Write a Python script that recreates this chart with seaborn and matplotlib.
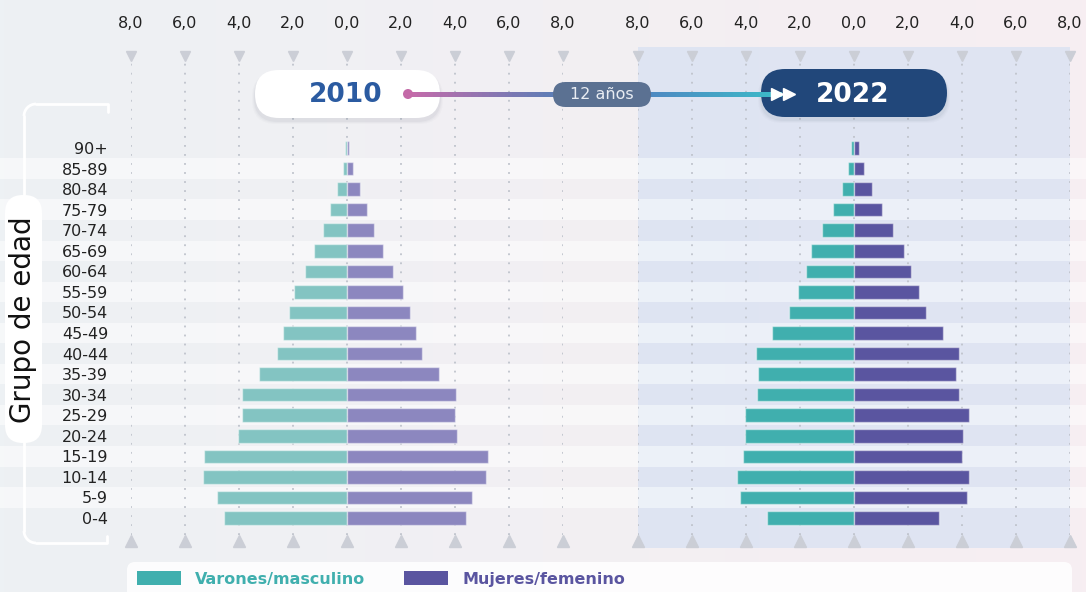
import numpy as np
import matplotlib
matplotlib.use("Agg")
import matplotlib.pyplot as plt
import seaborn as sns
from matplotlib.patches import FancyBboxPatch, Patch, Circle, Arc
from matplotlib.collections import LineCollection
from matplotlib.colors import to_rgb
import matplotlib.transforms as mtransforms

# ---------------- data ----------------
age_groups = ["90+", "85-89", "80-84", "75-79", "70-74", "65-69", "60-64", "55-59",
              "50-54", "45-49", "40-44", "35-39", "30-34", "25-29", "20-24", "15-19",
              "10-14", "5-9", "0-4"]
male_2010 = [0.06, 0.16, 0.36, 0.63, 0.90, 1.21, 1.57, 1.95, 2.14, 2.37, 2.60, 3.25,
             3.90, 3.88, 4.02, 5.30, 5.35, 4.80, 4.54]
female_2010 = [0.09, 0.22, 0.47, 0.74, 1.01, 1.32, 1.72, 2.09, 2.35, 2.54, 2.79, 3.41,
               4.02, 4.00, 4.06, 5.21, 5.16, 4.63, 4.41]
male_2022 = [0.10, 0.21, 0.46, 0.78, 1.17, 1.58, 1.78, 2.06, 2.41, 3.04, 3.63, 3.54,
             3.60, 4.02, 4.02, 4.11, 4.34, 4.24, 3.22]
female_2022 = [0.19, 0.37, 0.67, 1.03, 1.44, 1.86, 2.10, 2.40, 2.65, 3.29, 3.89, 3.78,
               3.89, 4.27, 4.05, 4.01, 4.25, 4.20, 3.14]
x_ticks = [-8, -6, -4, -2, 0, 2, 4, 6, 8]
x_tick_labels = ["8,0", "6,0", "4,0", "2,0", "0,0", "2,0", "4,0", "6,0", "8,0"]
year_left, year_right, gap_label = "2010", "2022", "12 años"
legend_labels = ["Varones/masculino", "Mujeres/femenino"]
y_title = "Grupo de edad"

# ---------------- style ----------------
sns.set_theme(style="white")
plt.rcParams["font.family"] = ["DejaVu Sans"]
W, H = 1086, 592
fig = plt.figure(figsize=(W / 100, H / 100), dpi=100)

c_m_old, c_f_old = "#83C4C2", "#8C87BF"
c_m_new, c_f_new = "#40AFAE", "#5A55A0"

# background gradient
bg = fig.add_axes([0, 0, 1, 1], zorder=0)
bg.set_axis_off()
c1, c2 = np.array(to_rgb("#EDF1F4")), np.array(to_rgb("#F7EEF2"))
t = np.linspace(0, 1, 256)
grad = (c1[None, :] * (1 - t[:, None]) + c2[None, :] * t[:, None])[None, :, :]
bg.imshow(grad, aspect="auto", extent=[0, 1, 0, 1])
bg.set_xlim(0, 1); bg.set_ylim(0, 1)

# panel geometry (pixels)
top_px, bot_px = 47, 548
row0_px, row_step = 148, (518 - 148) / 18
ax_bottom = (H - bot_px) / H
ax_height = (bot_px - top_px) / H
y_lo = (bot_px - row0_px) / row_step
y_hi = (top_px - row0_px) / row_step

rows = fig.add_axes([0, ax_bottom, 1, ax_height], zorder=0.5)
rows.set_axis_off()
rows.patch.set_alpha(0)
rows.set_xlim(0, 1)
rows.set_ylim(y_lo, y_hi)
for j in range(len(age_groups)):
    if j % 2 == 1:
        rows.axhspan(j - 0.5, j + 0.5, color="white", alpha=0.5, lw=0)

axL = fig.add_axes([131 / W, ax_bottom, 432 / W, ax_height], zorder=1)
axR = fig.add_axes([638 / W, ax_bottom, 432 / W, ax_height], zorder=1)
axL.patch.set_alpha(0)
axR.set_facecolor((0.82, 0.87, 0.95, 0.6))

for ax, male, female, cm, cf in [(axL, male_2010, female_2010, c_m_old, c_f_old),
                                  (axR, male_2022, female_2022, c_m_new, c_f_new)]:
    for tk in x_ticks:
        ax.axvline(tk, ymin=0.026, ymax=0.97, color="#BFC3CC", lw=1.3,
                   ls=(0, (1, 4)), zorder=0.8)
    sns.barplot(x=-np.array(male), y=age_groups, order=age_groups, orient="h",
                color=cm, saturation=1, width=0.66, ax=ax,
                edgecolor=(1, 1, 1, 0.45), linewidth=1, zorder=2)
    sns.barplot(x=np.array(female), y=age_groups, order=age_groups, orient="h",
                color=cf, saturation=1, width=0.66, ax=ax,
                edgecolor=(1, 1, 1, 0.45), linewidth=1, zorder=2)
    ax.set_xlim(-8, 8)
    ax.set_ylim(y_lo, y_hi)
    ax.set_xlabel(""); ax.set_ylabel("")
    ax.xaxis.set_ticks_position("top")
    ax.set_xticks(x_ticks)
    ax.set_xticklabels(x_tick_labels)
    ax.tick_params(axis="x", length=0, pad=11.3, labelsize=11.5, colors="#222222")
    for s in ax.spines.values():
        s.set_visible(False)
    tr = mtransforms.blended_transform_factory(ax.transData, ax.transAxes)
    ax.plot(x_ticks, [0.982] * len(x_ticks), ls="none", marker="v", ms=7,
            color="#CBCED6", transform=tr, clip_on=False, zorder=3)
    ax.plot(x_ticks, [0.013] * len(x_ticks), ls="none", marker="^", ms=8,
            color="#CBCED6", transform=tr, clip_on=False, zorder=3)

# right panel lighter bands
for j in range(len(age_groups)):
    if j % 2 == 1:
        axR.axhspan(j - 0.5, j + 0.5, color="white", alpha=0.4, lw=0, zorder=0.5)

axL.tick_params(axis="y", length=0, pad=16.5, labelsize=11.5, colors="#222222")
axR.set_yticks([])

# ---------------- foreground decorations ----------------
fg = fig.add_axes([0, 0, 1, 1], zorder=5)
fg.set_xlim(0, W); fg.set_ylim(H, 0)
fg.set_axis_off()
fg.patch.set_alpha(0)


def pill(x0, y0, w, h, color, r=None, z=6, shadow=True):
    r = h / 2 if r is None else r
    if shadow:
        for k, a in [(6, 0.025), (4, 0.035), (2, 0.05)]:
            fg.add_patch(FancyBboxPatch((x0 - k / 2, y0 + 3), w + k, h + k / 2,
                                        boxstyle=f"round,pad=0,rounding_size={r}",
                                        fc="#4A5570", ec="none", alpha=a, zorder=z - 0.5))
    fg.add_patch(FancyBboxPatch((x0, y0), w, h, boxstyle=f"round,pad=0,rounding_size={r}",
                                fc=color, ec="none", zorder=z))


def grad_line(x0, x1, y, ca, cb, z=6.2):
    xs = np.linspace(x0, x1, 40)
    segs = [[(xs[i], y), (xs[i + 1] + 0.6, y)] for i in range(len(xs) - 1)]
    a, b = np.array(to_rgb(ca)), np.array(to_rgb(cb))
    cols = [a * (1 - s) + b * s for s in np.linspace(0, 1, len(segs))]
    fg.add_collection(LineCollection(segs, colors=cols, linewidths=2.4, zorder=z,
                                     capstyle="projecting", antialiaseds=False))


# connecting lines
grad_line(408, 556, 94, "#C66BAA", "#5E7DB6")
grad_line(648, 778, 94, "#4E88C2", "#3CB9C8")

pill(255, 70, 185, 48, "white")
fg.text(346, 95, year_left, ha="center", va="center", fontsize=19, fontweight="bold",
        color="#2B5BA1", zorder=7)
fg.add_patch(Circle((408, 94), 5, fc="#C46AA8", ec="none", zorder=7))

pill(553, 82, 98, 25, "#5B7192", shadow=False, z=6.5)
fg.text(602, 94.5, gap_label, ha="center", va="center", fontsize=11.5,
        color="#E9EDF3", zorder=7)

pill(761, 69, 186, 48, "#21477A")
fg.plot([777, 789], [94, 94], ls="none", marker=">", ms=8, color="white", zorder=7.5)
fg.text(853, 95, year_right, ha="center", va="center", fontsize=19, fontweight="bold",
        color="white", zorder=7)

# y title with bracket
fg.plot([108, 108, 36], [112, 104, 104], color="white", lw=2, zorder=5.5,
        solid_capstyle="round")
fg.plot([24, 24], [116, 531], color="white", lw=2, zorder=5.5)
fg.add_patch(Arc((36, 116), 24, 24, theta1=180, theta2=270,
                 color="white", lw=2, zorder=5.5))
fg.add_patch(Arc((36, 531), 24, 24, theta1=90, theta2=180,
                 color="white", lw=2, zorder=5.5))
fg.plot([36, 107, 107], [543, 543, 536], color="white", lw=2, zorder=5.5,
        solid_capstyle="round")
pill(5, 195, 37, 248, "white", r=18, shadow=False)
fg.text(23, 320, y_title, rotation=90, ha="center", va="center", fontsize=20,
        color="#111111", zorder=7)

# legend
fg.add_patch(FancyBboxPatch((127, 562), 945, 40, boxstyle="round,pad=0,rounding_size=8",
                            fc="white", ec="none", alpha=0.85, zorder=5.5))
handles = [Patch(facecolor=c_m_new, edgecolor="none", label=legend_labels[0]),
           Patch(facecolor=c_f_new, edgecolor="none", label=legend_labels[1])]
leg = fig.legend(handles=handles, loc="center left",
                 bbox_to_anchor=(137 / W, 1 - 579 / H), ncol=2, frameon=False,
                 handlelength=2.75, handleheight=1.0,
                 handletextpad=0.9, columnspacing=2.4, borderpad=0, borderaxespad=0,
                 prop={"weight": "semibold", "size": 11.5})
leg.set_zorder(8)
for txt, c in zip(leg.get_texts(), [c_m_new, c_f_new]):
    txt.set_color(c)

fig.savefig("out.png", dpi=100)
